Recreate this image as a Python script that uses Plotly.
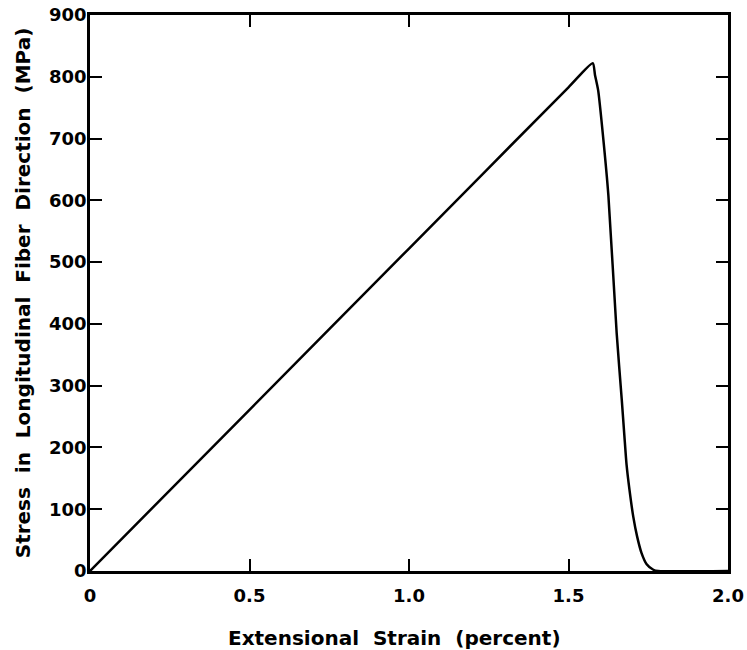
import plotly.graph_objects as go

# Data
strain = [0.0, 0.5, 1.0, 1.5, 1.576, 1.583, 1.593, 1.609, 1.625, 1.651,
          1.667, 1.675, 1.682, 1.691, 1.703, 1.715, 1.729, 1.745, 1.766,
          1.781, 2.0]
stress = [0, 261, 522, 783, 822, 803, 778, 700, 608, 385,
          277, 220, 172, 132, 88, 56, 29, 11, 2,
          0, 0]

x_ticks = [0, 0.5, 1.0, 1.5, 2.0]
x_ticklabels = ["0", "0.5", "1.0", "1.5", "2.0"]
y_ticks = [0, 100, 200, 300, 400, 500, 600, 700, 800, 900]

x_title = "Extensional  Strain  (percent)"
y_title = "Stress  in  Longitudinal  Fiber  Direction  (MPa)"

font_family = "DejaVu Sans"

fig = go.Figure()
fig.add_trace(go.Scatter(
    x=strain, y=stress, mode="lines",
    line=dict(color="black", width=2.5, shape="spline", smoothing=0.6),
    showlegend=False, hoverinfo="skip",
))

axis_common = dict(
    showline=True, linecolor="black", linewidth=2.5,
    mirror="ticks", ticks="inside", ticklen=12, tickwidth=2, tickcolor="black",
    showgrid=False, zeroline=False,
    tickfont=dict(family=font_family, size=18, color="black", weight="bold"),
)

fig.update_xaxes(
    range=[0, 2.0], tickvals=x_ticks, ticktext=x_ticklabels,
    ticklabelstandoff=7,
    **axis_common,
)
fig.update_yaxes(
    range=[0, 900], tickvals=y_ticks,
    title=dict(text=y_title,
               font=dict(family=font_family, size=20, color="black", weight="bold"),
               standoff=14),
    ticklabelstandoff=-3,
    **axis_common,
)

fig.add_annotation(
    text=x_title, xref="paper", yref="paper", x=0.478, y=-0.1205,
    xanchor="center", yanchor="middle", showarrow=False,
    font=dict(family=font_family, size=20, color="black", weight="bold"),
)

fig.update_layout(
    width=747, height=650,
    margin=dict(l=90, r=19, t=15, b=79, autoexpand=False),
    paper_bgcolor="white", plot_bgcolor="white",
)

fig.write_html(
    "out.html",
    config={"displayModeBar": False},
    post_script="document.body.style.margin='0';document.body.style.overflow='hidden';",
)
